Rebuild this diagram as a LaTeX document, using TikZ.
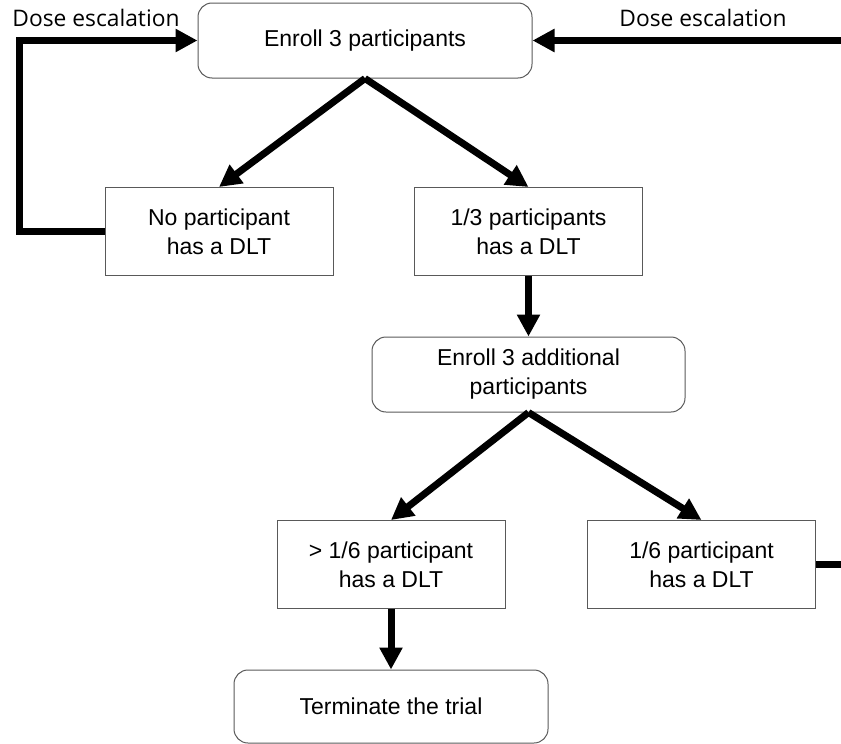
\documentclass[tikz,border=0pt]{standalone}
\usepackage{fontspec}
\setmainfont{Liberation Sans}
\newfontfamily\labelfont{Open Sans}
\usepackage{tikz}
\usetikzlibrary{arrows.meta,positioning}

\begin{document}
\begin{tikzpicture}[->,>={Triangle[length=22pt,width=22pt]},on grid,
  round box/.style={draw=black!65,line width=1pt,rounded corners=14pt,
    align=center,font=\fontsize{23}{29}\selectfont,minimum height=75pt},
  plain box/.style={draw=black!65,line width=1pt,rectangle,
    align=center,font=\fontsize{23}{29}\selectfont,minimum width=228pt,minimum height=88pt},
  flow/.style={line width=7pt,black}]

  \useasboundingbox (0,0) rectangle (841pt,-744pt);

  \node[round box,minimum width=334pt] (E1) at (365pt,-40.5pt) {Enroll 3 participants};
  \node[plain box] (N) [below left=191pt and 146pt of E1] {No participant\\has a DLT};
  \node[plain box] (O) [below right=191pt and 163.5pt of E1] {1/3 participants\\has a DLT};
  \node[round box,minimum width=313pt] (E2) [below=143pt of O] {Enroll 3 additional\\participants};
  \node[plain box] (G) [below left=190pt and 137.5pt of E2] {> 1/6 participant\\has a DLT};
  \node[plain box] (S) [below right=190pt and 173pt of E2] {1/6 participant\\has a DLT};
  \node[round box,minimum width=314pt,minimum height=73pt] (T) [below=142pt of G] {Terminate the trial};

  \node[font=\labelfont\fontsize{22.8}{27}\selectfont] (doseL) at (96pt,-18pt) {Dose escalation};
  \node[font=\labelfont\fontsize{22.8}{27}\selectfont] (doseR) at (703pt,-18pt) {Dose escalation};

  \coordinate (edgeR) at (841pt,0);

  \path[flow]
    (E1.south) edge (N.north)
               edge (O.north)
    (O.south)  edge (E2.north)
    (E2.south) edge (G.north)
               edge (S.north)
    (G.south)  edge (T.north);
  \draw[flow] (N.west) -- ++(-85pt,0) |- (E1.west);
  \draw[flow] (E1.east -| edgeR) -- (E1.east);
  \draw[flow,-] (S.east) -- (S.east -| edgeR);
\end{tikzpicture}
\end{document}
